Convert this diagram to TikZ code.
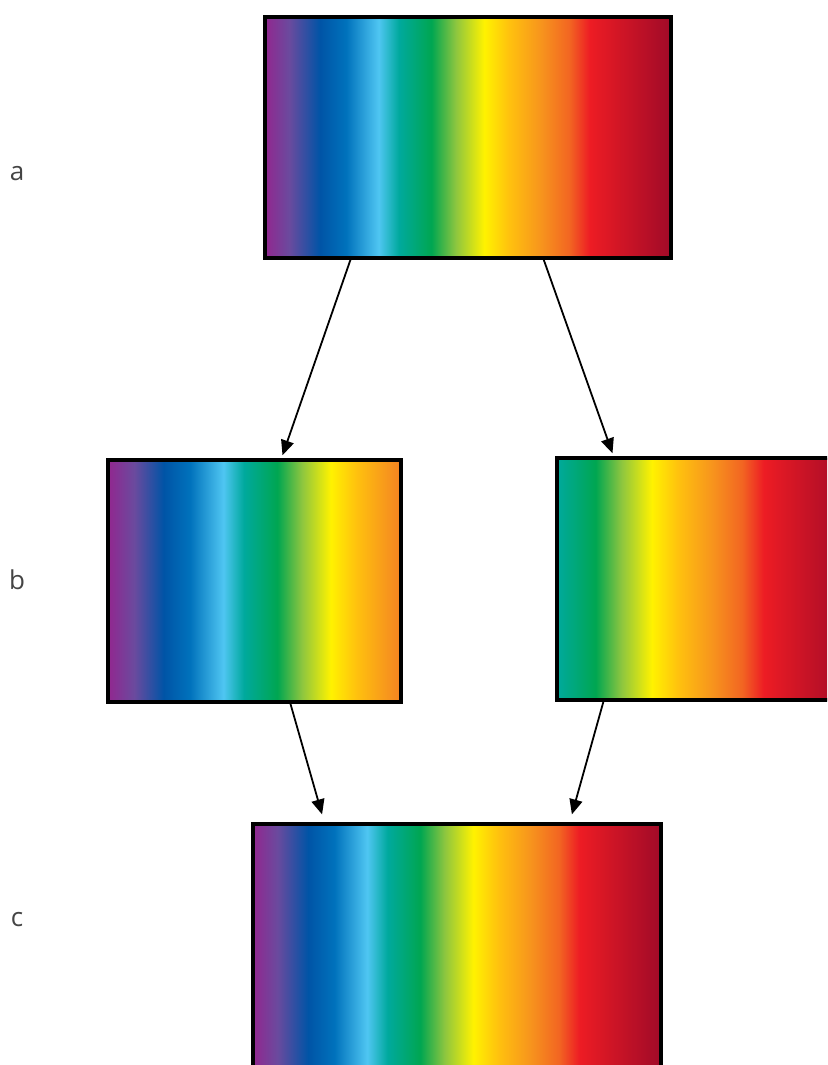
\documentclass[tikz,border=0pt]{standalone}
\usepackage{fontspec}
\setmainfont{Open Sans}
\usetikzlibrary{arrows.meta,calc}
\definecolor{spPurple}{HTML}{92278F}
\definecolor{spViolet}{HTML}{6A4A9E}
\definecolor{spBlue}{HTML}{0054A6}
\definecolor{spMidBlue}{HTML}{0072BC}
\definecolor{spLightBlue}{HTML}{4FC6F2}
\definecolor{spTeal}{HTML}{00A99D}
\definecolor{spGreen}{HTML}{00A651}
\definecolor{spLime}{HTML}{8DC63F}
\definecolor{spYellow}{HTML}{FFF200}
\definecolor{spGold}{HTML}{FFC20E}
\definecolor{spOrange}{HTML}{F7941D}
\definecolor{spOrangeEnd}{HTML}{F58220}
\definecolor{spRedOrange}{HTML}{F26522}
\definecolor{spRed}{HTML}{ED1C24}
\definecolor{spDark}{HTML}{A00A28}
\definecolor{labelgray}{HTML}{444444}
\pgfdeclarehorizontalshading{specfull}{100bp}{%
color(0bp)=(spPurple); color(25bp)=(spPurple); color(28bp)=(spViolet);
color(31.75bp)=(spBlue); color(35bp)=(spMidBlue); color(39bp)=(spLightBlue);
color(41.5bp)=(spTeal); color(45.5bp)=(spGreen); color(48.5bp)=(spLime);
color(52bp)=(spYellow); color(55bp)=(spGold); color(59bp)=(spOrange);
color(62.5bp)=(spRedOrange); color(65bp)=(spRed); color(75bp)=(spDark);
color(100bp)=(spDark)}
\pgfdeclarehorizontalshading{specleft}{100bp}{%
color(0bp)=(spPurple); color(25bp)=(spPurple); color(29.5bp)=(spViolet);
color(34.5bp)=(spBlue); color(39bp)=(spMidBlue); color(44.7bp)=(spLightBlue);
color(48.2bp)=(spTeal); color(53.9bp)=(spGreen); color(58.1bp)=(spLime);
color(63bp)=(spYellow); color(67.3bp)=(spGold); color(72.9bp)=(spOrange);
color(75bp)=(spOrangeEnd); color(100bp)=(spOrangeEnd)}
\pgfdeclarehorizontalshading{specright}{100bp}{%
color(0bp)=(spTeal); color(25bp)=(spTeal); color(31.6bp)=(spGreen);
color(36bp)=(spLime); color(41.2bp)=(spYellow); color(45.6bp)=(spGold);
color(51.5bp)=(spOrange); color(56.6bp)=(spRedOrange); color(60.3bp)=(spRed);
color(75bp)=(spDark); color(100bp)=(spDark)}
\tikzset{
  specbox/.style={draw=black, line width=4pt, inner sep=0pt, outer sep=0pt},
  arr/.style={draw=black, line width=1.8pt, -{Triangle[length=15pt,width=13pt]}},
  rowlabel/.style={anchor=base, text=labelgray, font=\fontsize{26}{30}\selectfont, inner sep=0pt}
}
\begin{document}
\begin{tikzpicture}[x=1pt,y=-1pt]
\useasboundingbox (0,0) rectangle (827,1065);
\clip (0,0) rectangle (827,1065);
\node[specbox, shading=specfull, minimum width=406pt, minimum height=241pt] (A) at (468,137.5) {};
\node[specbox, shading=specleft, minimum width=293pt, minimum height=242pt] (BL) at (254.5,581) {};
\node[specbox, shading=specright, minimum width=293pt, minimum height=242pt] (BR) at (703.5,579) {};
\node[specbox, shading=specfull, minimum width=408pt, minimum height=256pt] (C) at (457,952) {};
\node[rowlabel] (la) at (17,180) {a};
\node[rowlabel] (lb) at (17,589) {b};
\node[rowlabel] (lc) at (17,926) {c};
\draw[arr, shorten >=5pt, shorten <=2pt] ($(A.south west)!0.212!(A.south east)$) -- ($(BL.north west)!0.590!(BL.north east)$);
\draw[arr, shorten >=5pt, shorten <=2pt] ($(A.south west)!0.685!(A.south east)$) -- ($(BR.north west)!0.195!(BR.north east)$);
\draw[arr, shorten >=10pt, shorten <=2pt] ($(BL.south west)!0.621!(BL.south east)$) -- ($(C.north west)!0.176!(C.north east)$);
\draw[arr, shorten >=10pt, shorten <=2pt] ($(BR.south west)!0.160!(BR.south east)$) -- ($(C.north west)!0.775!(C.north east)$);
\end{tikzpicture}
\end{document}
